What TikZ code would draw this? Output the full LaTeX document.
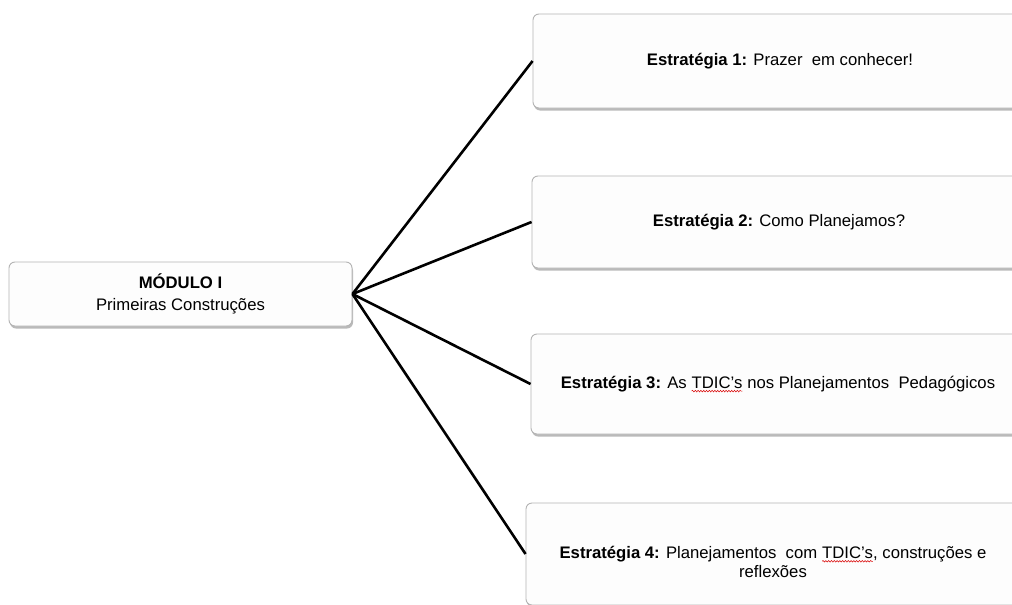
\documentclass[tikz,border=0pt]{standalone}
\usepackage{fontspec}
\setmainfont{Liberation Sans}
\usetikzlibrary{shadows,decorations.pathmorphing}
% red wavy underline, as a spell checker marks a word
\newcommand\redwave[1]{\tikz[baseline=(w.base), x=1pt, y=1pt]{%
  \node[inner sep=0pt, outer sep=0pt, minimum width=0pt, minimum height=0pt,
        draw=none, fill=none] (w) {#1};
  \draw[red!85!black, line width=0.5pt, sharp corners, decorate,
        decoration={snake, amplitude=0.8pt, segment length=2.8pt}]
    ([yshift=-3pt]w.base west) -- ([yshift=-3pt]w.base east);}}
\definecolor{boxfill}{HTML}{FDFDFD}
\definecolor{boxline}{HTML}{B4B4B4}
\tikzset{
  txt/.style={align=center, font=\fontsize{16.7}{19.5}\selectfont},
  card/.style={draw=boxline, line width=0.9pt, fill=boxfill, rounded corners=6pt,
    drop shadow={shadow xshift=1pt, shadow yshift=-2.5pt, opacity=0.45, fill=black!60},
    inner sep=0pt, txt},
  link/.style={draw=black, line width=2.6pt}
}
\begin{document}
\begin{tikzpicture}[x=1pt, y=-1pt]
  \useasboundingbox (0,0) rectangle (1012,605);
  \clip (0,0) rectangle (1012,605);
  \fill[white] (0,0) rectangle (1012,605);

  \node[card, minimum width=343pt, minimum height=64pt] (mod) at (180.5,294)
    {\textbf{MÓDULO I}\\[3pt]Primeiras Construções};

  \node[card, minimum width=494pt, minimum height=94pt] (s1) at (780,61)
    {\textbf{Estratégia 1:} Prazer\ \ em conhecer!};
  \node[card, minimum width=494pt, minimum height=92pt] (s2) at (779,222)
    {\textbf{Estratégia 2:} Como Planejamos?};
  \node[card, minimum width=494pt, minimum height=100pt] (s3) at (778,384)
    {\textbf{Estratégia 3:} As \redwave{TDIC’s} nos Planejamentos\ \ Pedagógicos};
  \node[card, minimum width=494pt, minimum height=102pt, label={[txt, yshift=-8pt]center:%
      \textbf{Estratégia 4:} Planejamentos\ \ com \redwave{TDIC’s}, construções e\\reflexões}]
    (s4) at (773,554) {};

  \foreach \s in {s1,s2,s3,s4}
    \draw[link] (mod.east) -- (\s.west);
\end{tikzpicture}
\end{document}
